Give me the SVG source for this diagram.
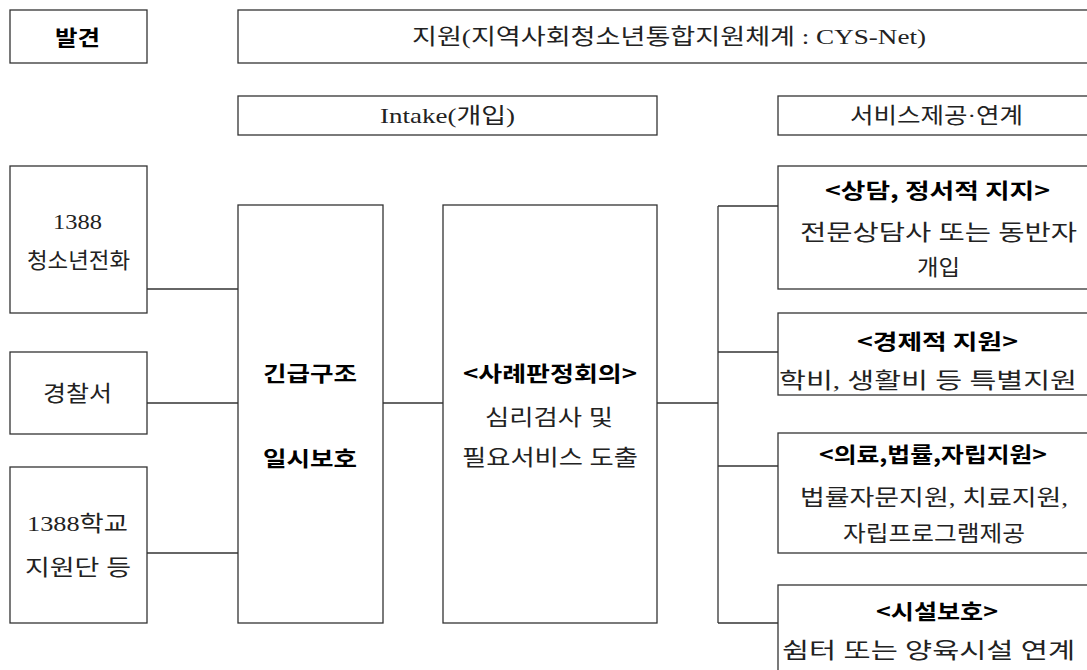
<svg xmlns="http://www.w3.org/2000/svg" width="1087" height="670" viewBox="0 0 1087 670">
<style>
rect.b{fill:#fff;stroke:#333;stroke-width:1.3}
.c line{stroke:#333;stroke-width:1.3}
text{font-size:22px;dominant-baseline:central}
.r{font-family:"Liberation Serif","Noto Sans CJK KR",serif;fill:#222}
.k{font-family:"Noto Sans CJK KR","Liberation Sans",sans-serif;font-weight:bold;fill:#000;font-size:21px}
</style>
<rect width="1087" height="670" fill="#fff"/>
<g class="c" id="connectors">
<line x1="147" y1="289" x2="238" y2="289"/>
<line x1="147" y1="403" x2="238" y2="403"/>
<line x1="147" y1="553" x2="238" y2="553"/>
<line x1="383" y1="403" x2="443" y2="403"/>
<line x1="657" y1="403" x2="718" y2="403"/>
<line x1="718" y1="206" x2="718" y2="623"/>
<line x1="718" y1="206" x2="778" y2="206"/>
<line x1="718" y1="352" x2="778" y2="352"/>
<line x1="718" y1="466" x2="778" y2="466"/>
<line x1="718" y1="623" x2="778" y2="623"/>
</g>
<g id="n-discover"><rect class="b" x="10" y="10" width="137" height="53"/><text class="k" x="55" y="36" textLength="45" lengthAdjust="spacingAndGlyphs">발견</text></g>
<g id="n-support"><rect class="b" x="238" y="10" width="870" height="53"/><text class="r" x="412" y="36" textLength="514" lengthAdjust="spacingAndGlyphs">지원(지역사회청소년통합지원체계 : CYS-Net)</text></g>
<g id="n-intake"><rect class="b" x="238" y="96" width="419" height="39"/><text class="r" x="380" y="115" textLength="135" lengthAdjust="spacingAndGlyphs">Intake(개입)</text></g>
<g id="n-service"><rect class="b" x="778" y="96" width="330" height="39"/><text class="r" x="850" y="115" textLength="173" lengthAdjust="spacingAndGlyphs">서비스제공·연계</text></g>
<g id="n-1388"><rect class="b" x="10" y="166" width="137" height="147"/><text class="r" x="53" y="221" textLength="49" lengthAdjust="spacingAndGlyphs">1388</text><text class="r" x="27" y="260" textLength="103" lengthAdjust="spacingAndGlyphs">청소년전화</text></g>
<g id="n-police"><rect class="b" x="10" y="352" width="137" height="82"/><text class="r" x="43" y="393" textLength="69" lengthAdjust="spacingAndGlyphs">경찰서</text></g>
<g id="n-school"><rect class="b" x="10" y="467" width="137" height="156"/><text class="r" x="27" y="523" textLength="101" lengthAdjust="spacingAndGlyphs">1388학교</text><text class="r" x="25" y="567" textLength="106" lengthAdjust="spacingAndGlyphs">지원단 등</text></g>
<g id="n-rescue"><rect class="b" x="238" y="205" width="145" height="418"/><text class="k" x="263" y="372" textLength="94" lengthAdjust="spacingAndGlyphs">긴급구조</text><text class="k" x="263" y="457" textLength="94" lengthAdjust="spacingAndGlyphs">일시보호</text></g>
<g id="n-case"><rect class="b" x="443" y="205" width="214" height="418"/><text class="k" x="463" y="372" textLength="174" lengthAdjust="spacingAndGlyphs">&lt;사례판정회의&gt;</text><text class="r" x="485" y="417" textLength="128" lengthAdjust="spacingAndGlyphs">심리검사 및</text><text class="r" x="462" y="457" textLength="176" lengthAdjust="spacingAndGlyphs">필요서비스 도출</text></g>
<g id="n-s1"><rect class="b" x="778" y="166" width="330" height="123"/><text class="k" x="825" y="189" textLength="225" lengthAdjust="spacingAndGlyphs">&lt;상담, 정서적 지지&gt;</text><text class="r" x="800" y="232" textLength="277" lengthAdjust="spacingAndGlyphs">전문상담사 또는 동반자</text><text class="r" x="917" y="267" textLength="43" lengthAdjust="spacingAndGlyphs">개입</text></g>
<g id="n-s2"><rect class="b" x="778" y="313" width="330" height="82"/><text class="k" x="857" y="340" textLength="161" lengthAdjust="spacingAndGlyphs">&lt;경제적 지원&gt;</text><text class="r" x="779" y="380" textLength="298" lengthAdjust="spacingAndGlyphs">학비, 생활비 등 특별지원</text></g>
<g id="n-s3"><rect class="b" x="778" y="433" width="330" height="120"/><text class="k" x="819" y="453" textLength="228" lengthAdjust="spacingAndGlyphs">&lt;의료,법률,자립지원&gt;</text><text class="r" x="800" y="497" textLength="268" lengthAdjust="spacingAndGlyphs">법률자문지원, 치료지원,</text><text class="r" x="843" y="533" textLength="182" lengthAdjust="spacingAndGlyphs">자립프로그램제공</text></g>
<g id="n-s4"><rect class="b" x="778" y="585" width="330" height="120"/><text class="k" x="876" y="610" textLength="122" lengthAdjust="spacingAndGlyphs">&lt;시설보호&gt;</text><text class="r" x="782" y="650" textLength="293" lengthAdjust="spacingAndGlyphs">쉼터 또는 양육시설 연계</text></g>
</svg>
